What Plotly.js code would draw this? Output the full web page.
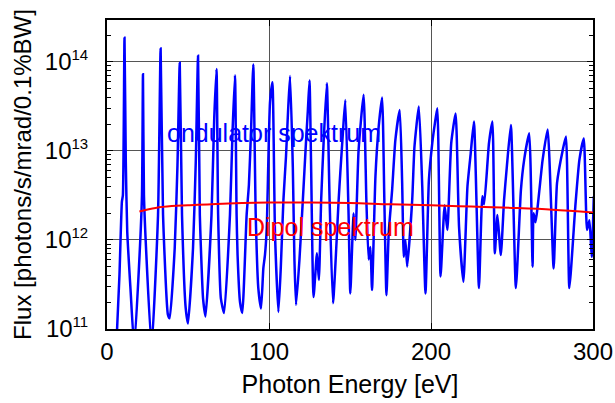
<!DOCTYPE html>
<html>
<head>
<meta charset="utf-8">
<script src="https://cdn.plot.ly/plotly-3.0.1.min.js"></script>
<style>html,body{margin:0;padding:0;background:#fff;}#chart{width:615px;height:403px;}</style>
</head>
<body>
<div id="chart"></div>
<script>
// Undulator spectrum: photon energy [eV] and flux
const undulatorEnergy = [
  5.5, 7.7, 9.2, 9.8, 10.8, 11.6, 12.5, 14.6, 16.8,
  20.1, 21.6, 22.2, 22.8, 24.3, 27.5,
  31.5, 33.1, 34.6, 37.6, 38.7,
  41.8, 43.5, 44.9, 46.3, 48.6, 50.0,
  53.1, 54.8, 56.2, 57.3, 57.9, 59.3, 60.8,
  64.5, 66.2, 67.6, 68.6, 70.3, 72.3,
  75.9, 77.5, 79.0, 80.0, 80.6, 82.1, 83.5,
  86.2, 87.6, 88.9, 90.3, 91.8, 93.4, 95.1,
  96.5, 97.5, 98.6, 100.6, 102.1, 103.7, 105.8,
  107.3, 108.9, 110.5, 111.8, 113.0, 114.7, 115.7, 116.7,
  118.8, 120.9, 122.9, 124.0, 125.0, 126.0, 127.5,
  129.6, 130.8, 132.2, 133.7, 135.7, 137.4, 139.5,
  143.0, 144.0, 145.6, 147.1, 149.1, 150.2,
  152.2, 153.3, 155.3, 158.4, 160.1, 161.5, 162.6, 163.6,
  165.7, 167.7, 169.8, 171.2, 172.5,
  173.9, 176.0, 178.0, 180.7, 182.2, 183.2, 184.2, 185.3,
  188.4, 189.8, 192.5, 194.6, 196.6,
  198.7, 200.8, 202.4, 203.9, 205.9, 208.4, 210.1,
  212.5, 215.2, 217.3, 220.0,
  222.5, 224.5, 226.5, 229.6, 231.7, 232.8,
  235.8, 237.9, 239.4, 241.0, 243.1,
  245.1, 246.8, 249.3, 252.4,
  255.5, 257.5, 260.6, 262.7, 263.3, 264.5,
  268.9, 272.0, 275.7, 277.8,
  281.3, 283.3, 285.4,
  289.1, 291.6, 294.3, 296.3, 297.8, 299.2, 300.5
];
const undulatorFlux = [
  5e10, 4.07e11, 2.69e12, 3.16e12, 1.86e14, 7.59e12, 1.23e12, 2.63e11, 6.3e10,
  6.76e11, 3.24e12, 7.24e13, 3.24e12, 6.76e11, 6.3e10,
  1.91e12, 1.41e14, 1.91e12, 1.45e11, 1.32e11,
  8.13e11, 6.92e12, 9.77e13, 1.91e12, 1.70e11, 1.15e11,
  8.13e11, 7.59e12, 1.17e14, 1.91e12, 8.71e11, 2.19e11, 1.38e11,
  1.91e12, 2.34e13, 8.32e13, 1.91e12, 2.19e11, 1.51e11,
  1.91e12, 1.66e13, 7.08e13, 1.91e12, 6.76e11, 2.0e11, 1.51e11,
  1.91e12, 4.17e12, 1.66e13, 9.33e13, 1.91e12, 2.88e11, 1.70e11,
  4.79e11, 6.76e11, 1.35e12, 3.47e13, 5.89e13, 1.20e12, 1.55e11,
  5.01e11, 2.82e12, 8.71e12, 2.88e13, 6.92e13, 6.61e12, 6.03e11, 1.86e11,
  6.03e11, 2.82e12, 1.32e13, 2.88e13, 6.17e13, 6.61e12, 2.29e11,
  7.08e11, 3.55e11, 2.82e12, 1.23e13, 5.75e13, 2.82e12, 1.95e11,
  2.82e12, 5.62e12, 1.58e13, 3.72e13, 2.0e12, 2.51e11,
  2.0e12, 1.0e12, 1.02e13, 4.27e13, 2.82e12, 6.03e11, 8.32e11, 2.75e11,
  5.13e12, 1.86e13, 3.98e13, 2.82e12, 2.40e11,
  1.20e12, 3.63e12, 1.32e13, 2.88e13, 4.37e12, 6.46e11, 1.0e12, 5.01e11,
  2.82e12, 1.12e13, 3.16e13, 3.98e12, 2.51e11,
  4.68e12, 1.23e13, 2.04e13, 3.02e13, 3.89e11, 2.45e12, 1.29e12,
  1.23e13, 2.63e13, 1.41e12, 3.39e11,
  3.98e12, 9.33e12, 2.14e13, 2.88e11, 3.09e12, 2.51e12,
  1.23e13, 2.14e13, 7.08e11, 1.91e12, 6.76e11,
  2.82e12, 6.61e12, 1.95e13, 2.88e11,
  3.63e12, 7.94e12, 1.58e13, 5.01e11, 2.0e12, 1.58e12,
  7.94e12, 1.74e13, 4.79e11, 4.37e12,
  1.02e13, 1.45e13, 2.88e11,
  2.40e12, 7.94e12, 1.38e13, 1.29e12, 1.66e12, 6.46e11, 3.09e12
];

// Dipole spectrum
const dipoleEnergy = [20, 30, 40, 50, 75, 100, 125, 150, 175, 200, 225, 250, 275, 300];
const dipoleFlux = [2.09e12, 2.29e12, 2.40e12, 2.45e12, 2.57e12, 2.63e12, 2.63e12, 2.60e12, 2.51e12, 2.45e12, 2.37e12, 2.29e12, 2.19e12, 2.04e12];

// Axis ticks and labels
const xTickVals = [0, 100, 200, 300];
const yTickVals = [1e11, 1e12, 1e13, 1e14];
const yTickExp = ['11', '12', '13', '14'];
const yTickText = yTickExp.map(e => '10<sup><span style="font-size:15px">' + e + '</span></sup>');
const yMinorVals = [];
for (const d of [1e11, 1e12, 1e13, 1e14]) for (let m = 2; m <= 9; m++) yMinorVals.push(m * d);

const labelUndulator = 'ondulator spektrum';
const labelDipole = 'Dipol spektrum';
const xTitle = 'Photon Energy [eV]';
const yTitle = 'Flux [photons/s/mrad/0.1%BW]';

const FONT = 'Liberation Sans, Arial, sans-serif';

const traces = [
  {x: undulatorEnergy, y: undulatorFlux, type: 'scatter', mode: 'lines',
   line: {color: '#0000ff', width: 2.5, shape: 'spline', smoothing: 0.5}, hoverinfo: 'skip'},
  {x: dipoleEnergy, y: dipoleFlux, type: 'scatter', mode: 'lines',
   line: {color: '#ff0000', width: 2, shape: 'spline'}, hoverinfo: 'skip'}
];

const layout = {
  width: 615, height: 403,
  margin: {l: 107, r: 22, t: 20, b: 74},
  paper_bgcolor: '#fff', plot_bgcolor: '#fff',
  showlegend: false,
  font: {family: FONT, color: '#000', size: 22},
  xaxis: {
    range: [0, 300], tickmode: 'array', tickvals: xTickVals,
    ticks: 'inside', ticklen: 6, tickwidth: 1, tickcolor: '#000',
    showline: true, linecolor: '#000', linewidth: 2, mirror: 'ticks',
    showgrid: true, gridcolor: '#555', gridwidth: 1, zeroline: false,
    tickfont: {size: 24, family: FONT},
    title: {text: xTitle, font: {size: 25, family: FONT}, standoff: 12}
  },
  yaxis: {
    type: 'log', range: [11, 14.47], tickmode: 'array',
    tickvals: yTickVals, ticktext: yTickText,
    ticks: 'inside', ticklen: 6, tickwidth: 1, tickcolor: '#000',
    showline: true, linecolor: '#000', linewidth: 2, mirror: 'ticks',
    showgrid: true, gridcolor: '#555', gridwidth: 1, zeroline: false,
    ticklabelstandoff: 12,
    minor: {tickmode: 'array', tickvals: yMinorVals, ticks: 'inside', ticklen: 4, tickcolor: '#000', showgrid: false},
    tickfont: {size: 24, family: FONT},
    title: {text: yTitle, font: {size: 24, family: FONT}, standoff: 6}
  },
  annotations: [
    {x: 102.8, y: 13.2, xref: 'x', yref: 'y', text: labelUndulator, showarrow: false,
     font: {color: '#0000ff', size: 25, family: FONT}, xanchor: 'center', yanchor: 'middle'},
    {x: 137.8, y: 12.14, xref: 'x', yref: 'y', text: labelDipole, showarrow: false,
     font: {color: '#ff0000', size: 25, family: FONT}, xanchor: 'center', yanchor: 'middle'}
  ]
};

Plotly.newPlot('chart', traces, layout, {staticPlot: true, displayModeBar: false});
</script>
</body>
</html>
